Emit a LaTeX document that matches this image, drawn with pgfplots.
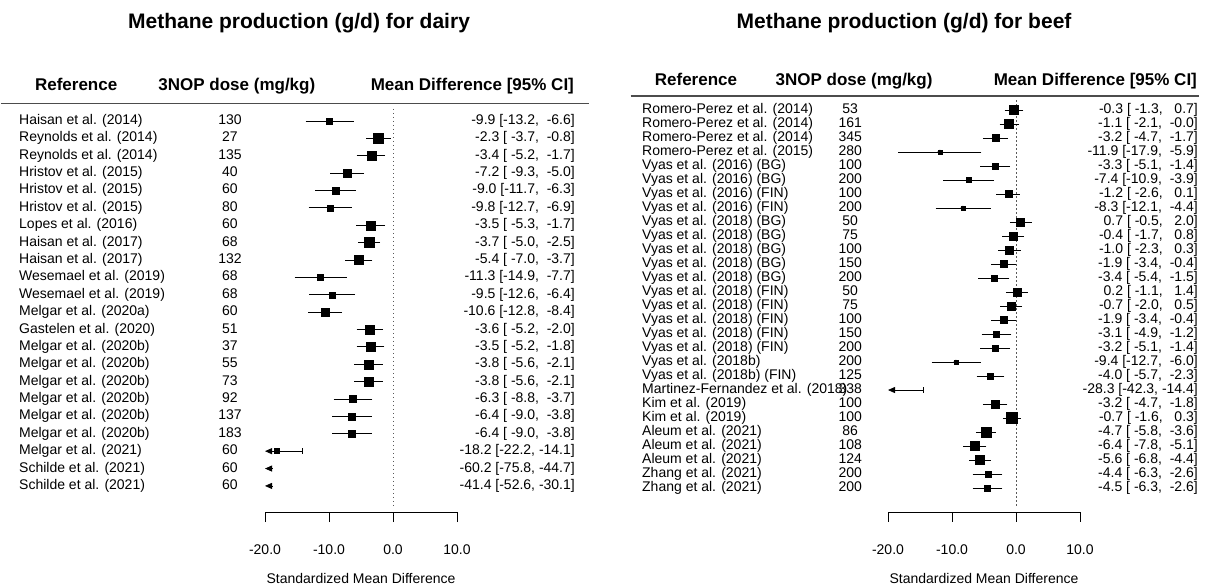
\documentclass[border=0pt]{standalone}
\usepackage{pgfplots}
\pgfplotsset{compat=1.18}
\usepackage{pgfplotstable}
\usepackage{fontspec}
\setmainfont{Liberation Sans}
\usetikzlibrary{arrows.meta}

% row; study; dose (mg/kg); mean difference; CI low; CI high; square side (pt); printed estimate
\pgfplotstableread[col sep=semicolon]{
row;name;dose;md;lo;hi;sz;ci
1;Haisan et al. (2014);130;-9.9;-13.2;-6.6;6;-9.9 [-13.2,~~-6.6]
2;Reynolds et al. (2014);27;-2.3;-3.7;-0.8;10;-2.3 [~-3.7,~~-0.8]
3;Reynolds et al. (2014);135;-3.4;-5.2;-1.7;9;-3.4 [~-5.2,~~-1.7]
4;Hristov et al. (2015);40;-7.2;-9.3;-5.0;8;-7.2 [~-9.3,~~-5.0]
5;Hristov et al. (2015);60;-9.0;-11.7;-6.3;7;-9.0 [-11.7,~~-6.3]
6;Hristov et al. (2015);80;-9.8;-12.7;-6.9;6;-9.8 [-12.7,~~-6.9]
7;Lopes et al. (2016);60;-3.5;-5.3;-1.7;9;-3.5 [~-5.3,~~-1.7]
8;Haisan et al. (2017);68;-3.7;-5.0;-2.5;10;-3.7 [~-5.0,~~-2.5]
9;Haisan et al. (2017);132;-5.4;-7.0;-3.7;9;-5.4 [~-7.0,~~-3.7]
10;Wesemael et al. (2019);68;-11.3;-14.9;-7.7;6;-11.3 [-14.9,~~-7.7]
11;Wesemael et al. (2019);68;-9.5;-12.6;-6.4;6;-9.5 [-12.6,~~-6.4]
12;Melgar et al. (2020a);60;-10.6;-12.8;-8.4;8;-10.6 [-12.8,~~-8.4]
13;Gastelen et al. (2020);51;-3.6;-5.2;-2.0;9;-3.6 [~-5.2,~~-2.0]
14;Melgar et al. (2020b);37;-3.5;-5.2;-1.8;9;-3.5 [~-5.2,~~-1.8]
15;Melgar et al. (2020b);55;-3.8;-5.6;-2.1;9;-3.8 [~-5.6,~~-2.1]
16;Melgar et al. (2020b);73;-3.8;-5.6;-2.1;9;-3.8 [~-5.6,~~-2.1]
17;Melgar et al. (2020b);92;-6.3;-8.8;-3.7;7;-6.3 [~-8.8,~~-3.7]
18;Melgar et al. (2020b);137;-6.4;-9.0;-3.8;7;-6.4 [~-9.0,~~-3.8]
19;Melgar et al. (2020b);183;-6.4;-9.0;-3.8;7;-6.4 [~-9.0,~~-3.8]
20;Melgar et al. (2021);60;-18.2;-22.2;-14.1;5;-18.2 [-22.2,~-14.1]
21;Schilde et al. (2021);60;-60.2;-75.8;-44.7;0;-60.2 [-75.8,~-44.7]
22;Schilde et al. (2021);60;-41.4;-52.6;-30.1;0;-41.4 [-52.6,~-30.1]
}\dairy

\pgfplotstableread[col sep=semicolon]{
row;name;dose;md;lo;hi;sz;ci
1;Romero-Perez et al. (2014);53;-0.3;-1.3;0.7;9;-0.3 [~-1.3,~~~0.7]
2;Romero-Perez et al. (2014);161;-1.1;-2.1;-0.0;9;-1.1 [~-2.1,~~-0.0]
3;Romero-Perez et al. (2014);345;-3.2;-4.7;-1.7;7;-3.2 [~-4.7,~~-1.7]
4;Romero-Perez et al. (2015);280;-11.9;-17.9;-5.9;4;-11.9 [-17.9,~~-5.9]
5;Vyas et al. (2016) (BG);100;-3.3;-5.1;-1.4;6;-3.3 [~-5.1,~~-1.4]
6;Vyas et al. (2016) (BG);200;-7.4;-10.9;-3.9;5;-7.4 [-10.9,~~-3.9]
7;Vyas et al. (2016) (FIN);100;-1.2;-2.6;0.1;7;-1.2 [~-2.6,~~~0.1]
8;Vyas et al. (2016) (FIN);200;-8.3;-12.1;-4.4;4;-8.3 [-12.1,~~-4.4]
9;Vyas et al. (2018) (BG);50;0.7;-0.5;2.0;8;0.7 [~-0.5,~~~2.0]
10;Vyas et al. (2018) (BG);75;-0.4;-1.7;0.8;8;-0.4 [~-1.7,~~~0.8]
11;Vyas et al. (2018) (BG);100;-1.0;-2.3;0.3;8;-1.0 [~-2.3,~~~0.3]
12;Vyas et al. (2018) (BG);150;-1.9;-3.4;-0.4;7;-1.9 [~-3.4,~~-0.4]
13;Vyas et al. (2018) (BG);200;-3.4;-5.4;-1.5;6;-3.4 [~-5.4,~~-1.5]
14;Vyas et al. (2018) (FIN);50;0.2;-1.1;1.4;8;0.2 [~-1.1,~~~1.4]
15;Vyas et al. (2018) (FIN);75;-0.7;-2.0;0.5;8;-0.7 [~-2.0,~~~0.5]
16;Vyas et al. (2018) (FIN);100;-1.9;-3.4;-0.4;7;-1.9 [~-3.4,~~-0.4]
17;Vyas et al. (2018) (FIN);150;-3.1;-4.9;-1.2;6;-3.1 [~-4.9,~~-1.2]
18;Vyas et al. (2018) (FIN);200;-3.2;-5.1;-1.4;6;-3.2 [~-5.1,~~-1.4]
19;Vyas et al. (2018b);200;-9.4;-12.7;-6.0;4;-9.4 [-12.7,~~-6.0]
20;Vyas et al. (2018b) (FIN);125;-4.0;-5.7;-2.3;6;-4.0 [~-5.7,~~-2.3]
21;Martinez-Fernandez et al. (2018);338;-28.3;-42.3;-14.4;0;-28.3 [-42.3,~-14.4]
22;Kim et al. (2019);100;-3.2;-4.7;-1.8;8;-3.2 [~-4.7,~~-1.8]
23;Kim et al. (2019);100;-0.7;-1.6;0.3;11;-0.7 [~-1.6,~~~0.3]
24;Aleum et al. (2021);86;-4.7;-5.8;-3.6;10;-4.7 [~-5.8,~~-3.6]
25;Aleum et al. (2021);108;-6.4;-7.8;-5.1;9;-6.4 [~-7.8,~~-5.1]
26;Aleum et al. (2021);124;-5.6;-6.8;-4.4;9;-5.6 [~-6.8,~~-4.4]
27;Zhang et al. (2021);200;-4.4;-6.3;-2.6;6;-4.4 [~-6.3,~~-2.6]
28;Zhang et al. (2021);200;-4.5;-6.3;-2.6;6;-4.5 [~-6.3,~~-2.6]
}\beef

\newcommand\bodyfont{\fontsize{14}{16}\selectfont}
\newcommand\headfont{\bfseries\fontsize{17}{20}\selectfont}
\newcommand\titlefont{\bfseries\fontsize{21}{24}\selectfont}

\pgfplotsset{
  forest/.style={
    scale only axis, width=192pt,
    xmin=-20, xmax=10, ymax=0, clip=false,
    axis y line=none, axis x line*=bottom,
    axis line style={black, line width=0.8pt, -},
    xtick={-20,-10,0,10},
    xticklabels={-20.0,-10.0,0.0,10.0},
    tick align=outside, major tick length=10pt,
    tick style={black, line width=0.8pt},
    xticklabel style={font=\bodyfont, anchor=center, yshift=-28pt},
    xlabel={Standardized Mean Difference},
    xlabel style={font=\bodyfont, at={(axis description cs:0.5,0)}, anchor=center, yshift=-66pt},
  },
  textcol/.style={draw=none, mark=none, nodes near coords,
    point meta=explicit symbolic,
    every node near coord/.append style={font=\bodyfont, inner sep=0pt,
      text height=10pt, text depth=3pt, anchor=#1}},
  cibars/.style={only marks, mark=none, black,
    error bars/.cd, x dir=both, x explicit,
    error bar style={line width=0.8pt, black},
    error mark options={black, line width=0.8pt, mark size=3pt},
    /pgfplots/.cd},
  boxes/.style={scatter, only marks, mark=square*,
    scatter/use mapped color={draw=black, fill=black},
    visualization depends on={0.5*\thisrow{sz} \as \halfside},
    scatter/@pre marker code/.append style={/tikz/mark size=\halfside}},
}

\begin{document}
\begin{tikzpicture}

% ---------------- dairy ----------------
\begin{axis}[forest, at={(265pt,74pt)}, anchor=south west,
  height=408.4pt, ymin=-23.5]
  % reference line at zero
  \addplot[gray!70!black, line width=0.9pt, dash pattern=on 1.4pt off 2.6pt]
    coordinates {(0,-0.3) (0,-23.2)};
  % confidence intervals inside the plotted range
  \addplot[skip coords between index={19}{22}, cibars]
    table[x=md, y expr=-\thisrow{row},
      x error plus expr=\thisrow{hi}-\thisrow{md},
      x error minus expr=\thisrow{md}-\thisrow{lo}] {\dairy};
  % intervals running past -20
  \addplot[black, line width=0.8pt, arrows={Triangle[length=7pt,width=6pt]-Bar[width=6pt]}]
    coordinates {(-20,-20) (-14.1,-20)};
  \addplot[black, line width=0.8pt, arrows={-Triangle[length=7pt,width=6pt]}]
    coordinates {(-18.9,-21) (-20,-21)};
  \addplot[black, line width=0.8pt, arrows={-Triangle[length=7pt,width=6pt]}]
    coordinates {(-18.9,-22) (-20,-22)};
  % point estimates
  \addplot[skip coords between index={20}{22}, boxes]
    table[x=md, y expr=-\thisrow{row}] {\dairy};
  % text columns
  \addplot[textcol=west] table[x expr=-58.44, y expr=-\thisrow{row}, meta=name] {\dairy};
  \addplot[textcol=center] table[x expr=-25.47, y expr=-\thisrow{row}, meta=dose] {\dairy};
  \addplot[textcol=east] table[x expr=28.44, y expr=-\thisrow{row}, meta=ci] {\dairy};
  % header
  \draw[gray!60!black, line width=1.3pt] (axis cs:-61.25,0) -- (axis cs:30.6,0);
  \node[font=\headfont, text height=12pt, text depth=4pt, inner sep=0pt] at (axis cs:-49.5,1) {Reference};
  \node[font=\headfont, text height=12pt, text depth=4pt, inner sep=0pt] at (axis cs:-24.4,1) {3NOP dose (mg/kg)};
  \node[font=\headfont, text height=12pt, text depth=4pt, inner sep=0pt, anchor=east] at (axis cs:28.3,1) {Mean Difference [95\% CI]};
\end{axis}

% ---------------- beef ----------------
\begin{axis}[forest, at={(888pt,74pt)}, anchor=south west,
  height=416pt, ymin=-29.71]
  \addplot[gray!70!black, line width=0.9pt, dash pattern=on 1.4pt off 2.6pt]
    coordinates {(0,-0.3) (0,-29.36)};
  \addplot[skip coords between index={20}{21}, cibars]
    table[x=md, y expr=-\thisrow{row},
      x error plus expr=\thisrow{hi}-\thisrow{md},
      x error minus expr=\thisrow{md}-\thisrow{lo}] {\beef};
  \addplot[black, line width=0.8pt, arrows={Triangle[length=7pt,width=6pt]-Bar[width=6pt]}]
    coordinates {(-20,-21) (-14.4,-21)};
  \addplot[skip coords between index={20}{21}, boxes]
    table[x=md, y expr=-\thisrow{row}] {\beef};
  \addplot[textcol=west] table[x expr=-58.44, y expr=-\thisrow{row}, meta=name] {\beef};
  \addplot[textcol=center] table[x expr=-25.9, y expr=-\thisrow{row}, meta=dose] {\beef};
  \addplot[textcol=east] table[x expr=28.44, y expr=-\thisrow{row}, meta=ci] {\beef};
  \draw[gray!60!black, line width=1.3pt] (axis cs:-60.2,0) -- (axis cs:28.6,0);
  \node[font=\headfont, text height=12pt, text depth=4pt, inner sep=0pt] at (axis cs:-50,1) {Reference};
  \node[font=\headfont, text height=12pt, text depth=4pt, inner sep=0pt] at (axis cs:-25.3,1) {3NOP dose (mg/kg)};
  \node[font=\headfont, text height=12pt, text depth=4pt, inner sep=0pt, anchor=east] at (axis cs:28.3,1) {Mean Difference [95\% CI]};
\end{axis}

\node[font=\titlefont] at (299pt,563pt) {Methane production (g/d) for dairy};
\node[font=\titlefont] at (904pt,563pt) {Methane production (g/d) for beef};

\pgfresetboundingbox
\path (0pt,0pt) rectangle (1205pt,586pt);
\end{tikzpicture}
\end{document}
